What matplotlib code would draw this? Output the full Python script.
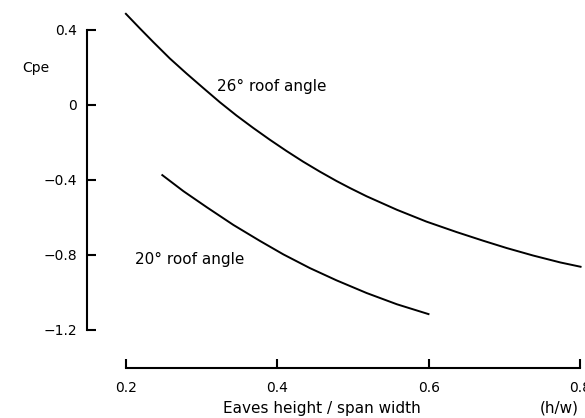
import matplotlib
matplotlib.use("Agg")
import matplotlib.pyplot as plt

# 26 degree roof angle
x26 = [0.199, 0.2185, 0.236, 0.258, 0.280, 0.302, 0.324, 0.346, 0.368, 0.390,
       0.412, 0.434, 0.456, 0.478, 0.496, 0.518, 0.558, 0.597, 0.637, 0.672,
       0.703, 0.738, 0.774, 0.802]
y26 = [0.490, 0.408, 0.336, 0.248, 0.168, 0.091, 0.015, -0.056, -0.122, -0.185,
       -0.245, -0.302, -0.355, -0.405, -0.443, -0.487, -0.559, -0.622, -0.678, -0.724,
       -0.763, -0.803, -0.840, -0.864]
# 20 degree roof angle
x20 = [0.247, 0.276, 0.307, 0.342, 0.377, 0.408, 0.443, 0.478, 0.518, 0.558, 0.601]
y20 = [-0.371, -0.460, -0.546, -0.640, -0.725, -0.797, -0.870, -0.935, -1.003, -1.063, -1.117]

yticks = [0.4, 0, -0.4, -0.8, -1.2]
yticklabels = ["0.4", "0", "\u22120.4", "\u22120.8", "\u22121.2"]
xticks = [0.2, 0.4, 0.6, 0.8]
xticklabels = ["0.2", "0.4", "0.6", "0.8"]

fig = plt.figure(figsize=(5.85, 4.18), dpi=100)
W, H = 585, 418
ax = fig.add_axes([87 / W, 1 - 368 / H, (580 - 87) / W, (368 - 7.5) / H])
ax.set_xlim(0.1485, 0.8)
ax.set_ylim(-1.403, 0.52)

for xs, ys in [(x26, y26), (x20, y20)]:
    ax.plot(xs, ys, color="black", lw=1.4, solid_capstyle="butt",
            solid_joinstyle="round", clip_on=False)

for s in ["top", "right"]:
    ax.spines[s].set_visible(False)
ax.spines["left"].set_position(("data", 0.1485))
ax.spines["left"].set_bounds(-1.2, 0.4)
ax.spines["bottom"].set_position(("data", -1.403))
ax.spines["bottom"].set_bounds(0.2, 0.8)
for s in ["left", "bottom"]:
    ax.spines[s].set_linewidth(1.5)

ax.set_yticks(yticks)
ax.set_yticklabels(yticklabels)
ax.set_xticks(xticks)
ax.set_xticklabels(xticklabels)
ax.tick_params(axis="both", direction="in", length=6.5, width=1.5, labelsize=10)
ax.tick_params(axis="y", pad=7)
ax.tick_params(axis="x", pad=9)

ax.text(0.320, 0.100, "26\u00b0 roof angle", fontsize=11, ha="left", va="center")
ax.text(0.212, -0.825, "20\u00b0 roof angle", fontsize=11, ha="left", va="center")

fig.text(22 / W, 1 - 68 / H, "Cpe", fontsize=10, ha="left", va="center")
fig.text(322 / W, 1 - 408 / H, "Eaves height / span width", fontsize=11, ha="center", va="center")
fig.text(559 / W, 1 - 408 / H, "(h/w)", fontsize=11, ha="center", va="center")

fig.savefig("out.png", dpi=100)
